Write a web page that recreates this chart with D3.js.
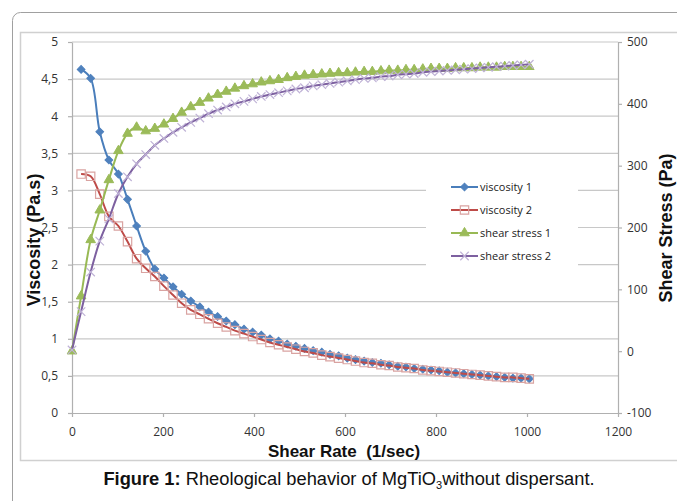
<!DOCTYPE html>
<html>
<head>
<meta charset="utf-8">
<script src="https://cdn.jsdelivr.net/npm/d3@7"></script>
<style>
  body { margin: 0; background: #fff; }
  svg { display: block; }
  .tick text { font-family: "Open Sans", sans-serif; font-size: 12px; fill: #333; }
  .title { font-family: "Liberation Sans", Arial, sans-serif; font-weight: bold; font-size: 18px; fill: #111; white-space: pre; }
  .legend text { font-family: "Open Sans", sans-serif; font-size: 11px; fill: #222; }
  .caption { font-family: "Liberation Sans", Arial, sans-serif; font-size: 18.3px; fill: #111; }
</style>
</head>
<body>
<div id="chart"></div>
<script>
// --------------------------------------
//  Data
// --------------------------------------

const shearRate = [0, 20, 41, 61, 81, 102, 122, 142, 162, 182, 202,
  222, 241, 261, 281, 300, 320, 339, 358, 378, 397,
  416, 435, 454, 473, 492, 511, 530, 549, 567, 586,
  605, 623, 642, 660, 679, 697, 716, 734, 752, 771,
  789, 807, 825, 843, 861, 879, 897, 915, 933, 951,
  969, 987, 1005];

const viscosity1 = [null, 4.63, 4.51, 3.79, 3.41, 3.22, 2.88, 2.52, 2.18, 1.94, 1.82,
  1.70, 1.60, 1.51, 1.43, 1.36, 1.30, 1.24, 1.19, 1.13, 1.09,
  1.05, 1.00, 0.97, 0.93, 0.90, 0.87, 0.84, 0.82, 0.79, 0.77,
  0.74, 0.72, 0.70, 0.68, 0.67, 0.65, 0.63, 0.62, 0.60, 0.59,
  0.58, 0.57, 0.55, 0.54, 0.53, 0.52, 0.51, 0.50, 0.49, 0.48,
  0.47, 0.47, 0.46];

const viscosity2 = [null, 3.22, 3.19, 2.95, 2.65, 2.52, 2.31, 2.08, 1.95, 1.84, 1.71,
  1.59, 1.48, 1.39, 1.33, 1.27, 1.21, 1.16, 1.11, 1.07, 1.03,
  0.99, 0.95, 0.92, 0.89, 0.86, 0.83, 0.81, 0.78, 0.76, 0.74,
  0.72, 0.70, 0.68, 0.67, 0.65, 0.64, 0.62, 0.61, 0.60, 0.58,
  0.57, 0.56, 0.55, 0.54, 0.53, 0.52, 0.51, 0.50, 0.49, 0.48,
  0.48, 0.47, 0.46];

const shearStress1 = [0, 89, 180, 228, 277, 324, 352, 362, 356, 360, 367,
  376, 386, 395, 402, 409, 415, 420, 425, 429, 432,
  435, 437, 439, 442, 444, 446, 447, 448, 449, 450,
  450, 451, 452, 452, 453, 454, 454, 455, 455, 456,
  457, 457, 457, 458, 458, 458, 459, 459, 459, 460,
  460, 460, 460];

const shearStress2 = [2, 64, 128, 178, 214, 255, 282, 303, 318, 333, 344,
  354, 362, 370, 377, 384, 390, 395, 400, 404, 408,
  412, 415, 418, 421, 424, 426, 429, 431, 433, 435,
  437, 439, 441, 442, 444, 445, 447, 448, 449, 451,
  452, 453, 454, 455, 456, 457, 458, 459, 460, 461,
  462, 463, 464];

const xTicks = [0, 200, 400, 600, 800, 1000, 1200];
const yLeftTicks = [0, 0.5, 1, 1.5, 2, 2.5, 3, 3.5, 4, 4.5, 5];
const yRightTicks = [-100, 0, 100, 200, 300, 400, 500];

const seriesNames = ["viscosity 1", "viscosity 2", "shear stress 1", "shear stress 2"];

// --------------------------------------
//  Canvas
// --------------------------------------

const width = 677;
const height = 501;
const plot = { left: 72, right: 618, top: 42, bottom: 413 };

const svg = d3.select("#chart")
  .append("svg")
  .attr("width", width)
  .attr("height", height);

// outer frame + chart area border
svg.append("rect")
  .attr("x", 12.5).attr("y", 12.5)
  .attr("width", 720).attr("height", 540)
  .attr("rx", 8)
  .attr("fill", "none")
  .attr("stroke", "#a0a0a0");

svg.append("rect")
  .attr("x", 20.5).attr("y", 32.5)
  .attr("width", 700).attr("height", 428)
  .attr("fill", "none")
  .attr("stroke", "#d0d0d0")
  .attr("stroke-width", 1.5);

// --------------------------------------
//  Scales
// --------------------------------------

const x = d3.scaleLinear([0, 1200], [plot.left, plot.right]);
const yL = d3.scaleLinear([0, 5], [plot.bottom, plot.top]);
const yR = d3.scaleLinear([-100, 500], [plot.bottom, plot.top]);

const comma = d => String(d).replace(".", ",");

// --------------------------------------
//  Grid + axes
// --------------------------------------

svg.append("g")
  .selectAll("line")
  .data(yLeftTicks.filter(d => d > 0))
  .join("line")
  .attr("x1", plot.left).attr("x2", plot.right)
  .attr("y1", d => yL(d)).attr("y2", d => yL(d))
  .attr("stroke", "#c8c8c8")
  .attr("stroke-width", 1.2);

const axisStyle = g => {
  g.selectAll(".domain").attr("stroke", "#b0b0b0").attr("stroke-width", 1.2);
  g.selectAll(".tick line").attr("stroke", "#b0b0b0").attr("stroke-width", 1.2);
};

svg.append("g")
  .attr("transform", `translate(0,${plot.bottom})`)
  .call(d3.axisBottom(x).tickValues(xTicks).tickFormat(d => String(d)).tickSize(4).tickSizeOuter(0).tickPadding(10))
  .call(axisStyle)
  .attr("font-family", null).attr("font-size", null);

svg.append("g")
  .attr("transform", `translate(${plot.left},0)`)
  .call(d3.axisLeft(yL).tickValues(yLeftTicks).tickFormat(comma).tickSize(4).tickSizeOuter(0).tickPadding(10))
  .call(axisStyle)
  .attr("font-family", null).attr("font-size", null);

svg.append("g")
  .attr("transform", `translate(${plot.right},0)`)
  .call(d3.axisRight(yR).tickValues(yRightTicks).tickFormat(d => String(d)).tickSize(4).tickSizeOuter(0).tickPadding(5))
  .call(axisStyle)
  .attr("font-family", null).attr("font-size", null);

// axis titles
svg.append("text")
  .attr("class", "title")
  .attr("x", 344).attr("y", 457)
  .attr("text-anchor", "middle")
  .style("font-size", "17px")
  .text("Shear Rate  (1/sec)");

svg.append("text")
  .attr("class", "title")
  .attr("transform", "translate(40,240) rotate(-90)")
  .attr("text-anchor", "middle")
  .text("Viscosity (Pa.s)");

svg.append("text")
  .attr("class", "title")
  .attr("transform", "translate(672,228) rotate(-90)")
  .attr("text-anchor", "middle")
  .text("Shear Stress (Pa)");

// --------------------------------------
//  Legend
// --------------------------------------

const legend = svg.append("g").attr("class", "legend");

legend.append("rect")
  .attr("x", 426).attr("y", 174)
  .attr("width", 152).attr("height", 94)
  .attr("fill", "#fff");

// --------------------------------------
//  Series
// --------------------------------------

const styles = [
  { line: "#4A7EBB", symbol: d3.symbolSquare, size: 30, rotate: 45, fill: "#4F81BD", stroke: "#4F81BD", sw: 1 },
  { line: "#BE4B48", symbol: d3.symbolSquare, size: 70, rotate: 0, fill: "none", stroke: "#D9A3A1", sw: 1.2 },
  { line: "#98B954", symbol: d3.symbolTriangle, size: 40, rotate: 0, fill: "#9BBB59", stroke: "#9BBB59", sw: 1 },
  { line: "#7D60A0", symbol: d3.symbolX, size: 48, rotate: 0, fill: "none", stroke: "#BFB2D6", sw: 1.2 }
];

const series = [
  { values: viscosity1, y: yL },
  { values: viscosity2, y: yL },
  { values: shearStress1, y: yR },
  { values: shearStress2, y: yR }
];

series.forEach((s, i) => {
  const st = styles[i];
  const pts = shearRate
    .map((r, j) => ({ r, v: s.values[j] }))
    .filter(d => d.v !== null);

  const line = d3.line()
    .x(d => x(d.r))
    .y(d => s.y(d.v))
    .curve(d3.curveCatmullRom.alpha(0.5));

  const g = svg.append("g");

  g.append("path")
    .datum(pts)
    .attr("d", line)
    .attr("fill", "none")
    .attr("stroke", st.line)
    .attr("stroke-width", 2);

  g.selectAll("path.mark")
    .data(pts)
    .join("path")
    .attr("class", "mark")
    .attr("d", d3.symbol(st.symbol, st.size))
    .attr("transform", d => `translate(${x(d.r)},${s.y(d.v)}) rotate(${st.rotate})`)
    .attr("fill", st.fill)
    .attr("stroke", st.stroke)
    .attr("stroke-width", st.sw);

  // legend entry
  const ly = [187, 210, 233, 256][i];
  legend.append("line")
    .attr("x1", 451).attr("x2", 478)
    .attr("y1", ly).attr("y2", ly)
    .attr("stroke", st.line)
    .attr("stroke-width", 2);
  legend.append("path")
    .attr("d", d3.symbol(st.symbol, st.size))
    .attr("transform", `translate(464.5,${ly}) rotate(${st.rotate})`)
    .attr("fill", st.fill)
    .attr("stroke", st.stroke)
    .attr("stroke-width", st.sw);
  legend.append("text")
    .attr("x", 480).attr("y", ly + 4)
    .text(seriesNames[i]);
});

// --------------------------------------
//  Caption
// --------------------------------------

const cap = svg.append("text")
  .attr("class", "caption")
  .attr("x", 349).attr("y", 485)
  .attr("text-anchor", "middle");
cap.append("tspan").attr("font-weight", "bold").text("Figure 1:");
cap.append("tspan").text(" Rheological behavior of MgTiO");
cap.append("tspan").attr("font-size", "11px").attr("dy", 4).text("3");
cap.append("tspan").attr("dy", -4).text("without dispersant.");
</script>
</body>
</html>
